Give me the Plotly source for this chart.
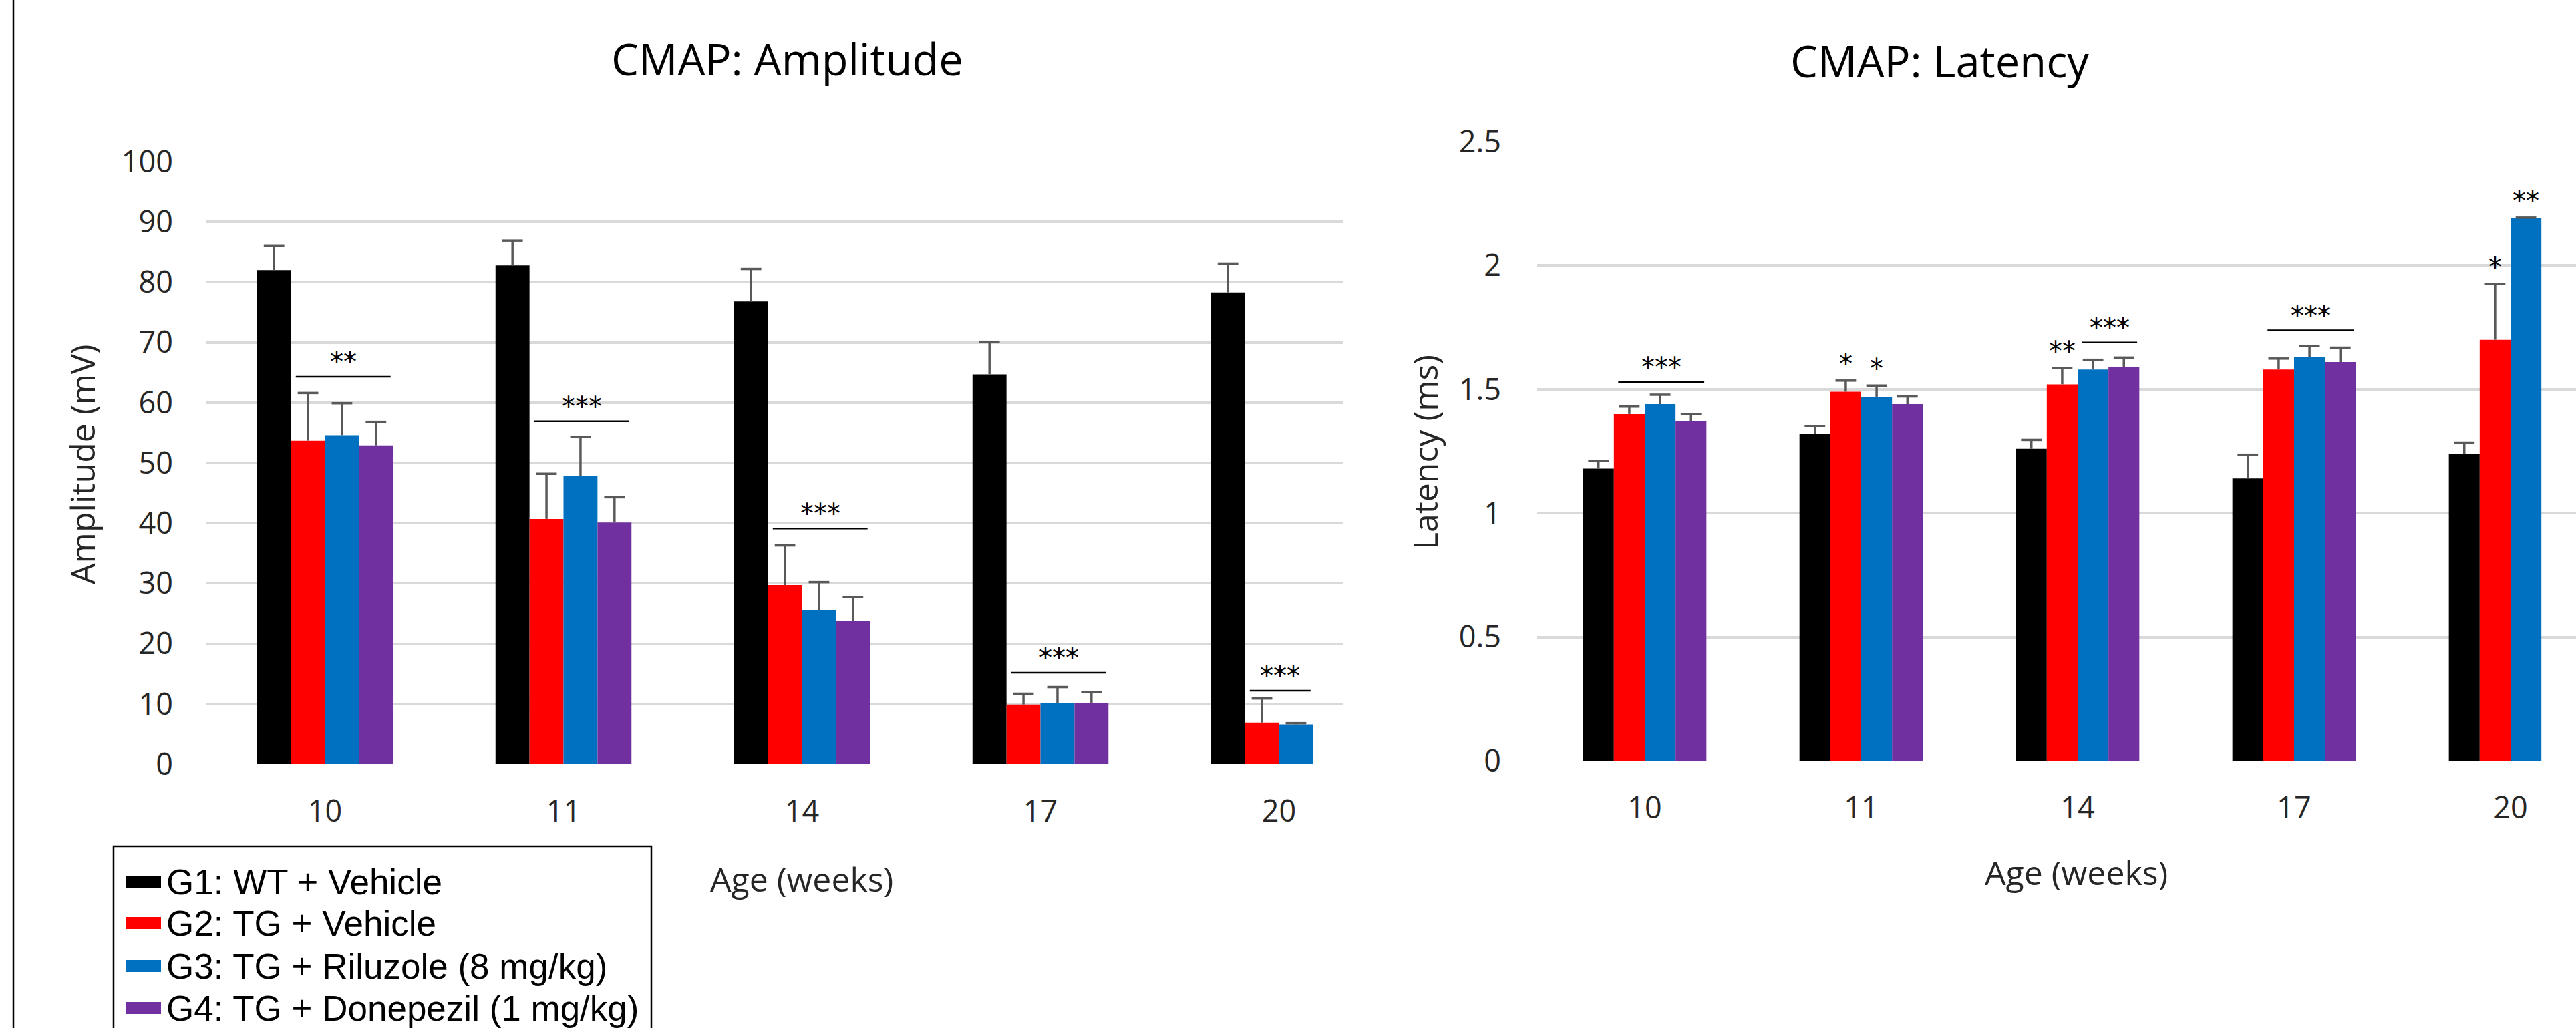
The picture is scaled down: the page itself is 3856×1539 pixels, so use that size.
import plotly.graph_objects as go

# ---------------- data ----------------
ages = ["10", "11", "14", "17", "20"]
groups = ["G1: WT + Vehicle", "G2: TG + Vehicle",
          "G3: TG + Riluzole (8 mg/kg)", "G4: TG + Donepezil (1 mg/kg)"]
colors = ["#000000", "#FF0000", "#0070C0", "#7030A0"]

# CMAP amplitude (mV), mean and upper error
amp_g1 = [82.0, 82.8, 76.8, 64.7, 78.3]
amp_g2 = [53.7, 40.7, 29.7, 9.9, 6.9]
amp_g3 = [54.6, 47.8, 25.6, 10.2, 6.6]
amp_g4 = [52.9, 40.1, 23.8, 10.2, None]
amp_err_g1 = [4.0, 4.1, 5.4, 5.4, 4.8]
amp_err_g2 = [7.9, 7.5, 6.6, 1.8, 4.0]
amp_err_g3 = [5.3, 6.5, 4.6, 2.6, 0.2]
amp_err_g4 = [3.9, 4.2, 3.9, 1.8, None]

# CMAP latency (ms), mean and upper error
lat_g1 = [1.18, 1.32, 1.26, 1.14, 1.24]
lat_g2 = [1.40, 1.49, 1.52, 1.58, 1.70]
lat_g3 = [1.44, 1.47, 1.58, 1.63, 2.19]
lat_g4 = [1.37, 1.44, 1.59, 1.61, None]
lat_err_g1 = [0.031, 0.031, 0.036, 0.096, 0.045]
lat_err_g2 = [0.030, 0.045, 0.065, 0.044, 0.226]
lat_err_g3 = [0.038, 0.045, 0.039, 0.045, 0.003]
lat_err_g4 = [0.029, 0.031, 0.038, 0.058, None]

# significance brackets: (age index, first group, last group, level, label)
amp_brackets = [(0, 1, 3, 64.3, "**"), (1, 1, 3, 56.9, "***"), (2, 1, 3, 39.1, "***"),
                (3, 1, 3, 15.2, "***"), (4, 1, 2, 12.2, "***")]
lat_brackets = [(0, 1, 3, 1.53, "***"), (2, 2, 3, 1.689, "***"), (3, 1, 3, 1.738, "***")]
# single-bar stars: (age index, group, label)
lat_stars = [(1, 1, "*"), (1, 2, "*"), (2, 1, "**"), (4, 1, "*"), (4, 2, "**")]

amp_ticks = list(range(0, 101, 10))
lat_ticks = [0, 0.5, 1, 1.5, 2, 2.5]
lat_ticktext = ["0", "0.5", "1", "1.5", "2", "2.5"]

# ---------------- style ----------------
W, H = 3856, 1539
BW = 0.1425
ERR = "#595959"
GRID = "#D9D9D9"
FONT = "Open Sans"
TICK_C = "#262626"
STAR_FONT = dict(family="DejaVu Sans", size=40, color="#000000")


def px(x):
    return x / W


def py(y):
    return 1 - y / H


fig = go.Figure()


def add_panel(means, errs, xa, ya):
    for k in range(4):
        xs, ys, es = [], [], []
        for i in range(len(ages)):
            if means[k][i] is None:
                continue
            xs.append(i + (k - 1.5) * BW)
            ys.append(means[k][i])
            es.append(errs[k][i])
        fig.add_trace(go.Bar(x=xs, y=ys, width=BW, name=groups[k],
                             marker=dict(color=colors[k], line=dict(width=0)),
                             xaxis=xa, yaxis=ya, showlegend=False))
        fig.add_trace(go.Scatter(
            x=xs, y=[m + e for m, e in zip(ys, es)], mode="markers",
            marker=dict(symbol="line-ew", size=22, line=dict(width=3.5, color=ERR)),
            error_y=dict(type="data", symmetric=False, array=[0] * len(es),
                         arrayminus=es, width=0, thickness=3.5, color=ERR),
            xaxis=xa, yaxis=ya, showlegend=False, hoverinfo="skip"))


add_panel([amp_g1, amp_g2, amp_g3, amp_g4],
          [amp_err_g1, amp_err_g2, amp_err_g3, amp_err_g4], "x", "y")
add_panel([lat_g1, lat_g2, lat_g3, lat_g4],
          [lat_err_g1, lat_err_g2, lat_err_g3, lat_err_g4], "x2", "y2")

shapes = []
annotations = []


def add_brackets(brackets, xr, yr):
    for (i, g0, g1, lvl, lab) in brackets:
        x0 = i + (g0 - 1.5) * BW - BW / 2 + 0.02
        x1 = i + (g1 - 1.5) * BW + BW / 2 - 0.01
        shapes.append(dict(type="line", xref=xr, yref=yr, x0=x0, x1=x1, y0=lvl, y1=lvl,
                           line=dict(color="#000000", width=2.5)))
        annotations.append(dict(xref=xr, yref=yr, x=(x0 + x1) / 2, y=lvl, text=lab,
                                showarrow=False, yanchor="middle", yshift=22,
                                font=STAR_FONT))


add_brackets(amp_brackets, "x", "y")
add_brackets(lat_brackets, "x2", "y2")

lat_all = [lat_g1, lat_g2, lat_g3, lat_g4]
lat_err_all = [lat_err_g1, lat_err_g2, lat_err_g3, lat_err_g4]
for (i, g, lab) in lat_stars:
    annotations.append(dict(xref="x2", yref="y2", x=i + (g - 1.5) * BW,
                            y=lat_all[g][i] + lat_err_all[g][i], text=lab,
                            showarrow=False, yanchor="middle", yshift=25,
                            font=STAR_FONT))


def label(x, y, text, size, color="#000000", angle=0, family=FONT, xanchor="center"):
    annotations.append(dict(xref="paper", yref="paper", x=px(x), y=py(y), text=text,
                            showarrow=False, textangle=angle, xanchor=xanchor,
                            yanchor="middle", font=dict(family=family, size=size, color=color)))


# titles
label(1178, 88, "CMAP: Amplitude", 65)
label(2903, 91, "CMAP: Latency", 65)
# axis titles
label(123, 695, "Amplitude (mV)", 50, TICK_C, -90)
label(2133, 677, "Latency (ms)", 50, TICK_C, -90)
label(1200, 1316, "Age (weeks)", 50, TICK_C)
label(3108, 1306, "Age (weeks)", 50, TICK_C)

# legend (boxed key below the left chart)
shapes.append(dict(type="rect", xref="paper", yref="paper", x0=px(170), x1=px(975),
                   y0=py(1570), y1=py(1267), line=dict(color="#000000", width=2.5),
                   fillcolor="rgba(0,0,0,0)"))
row_y = [1320, 1382, 1446, 1509]
for k in range(4):
    shapes.append(dict(type="rect", xref="paper", yref="paper", x0=px(188), x1=px(241),
                       y0=py(row_y[k] + 9), y1=py(row_y[k] - 9), line=dict(width=0),
                       fillcolor=colors[k]))
    label(247, row_y[k], groups[k], 53, "#000000", 0, "Liberation Sans", "left")

# outer left frame line
shapes.append(dict(type="line", xref="paper", yref="paper", x0=px(20), x1=px(20), y0=0, y1=1,
                   line=dict(color="#000000", width=2.5)))

axis_common = dict(showline=False, zeroline=False, showgrid=False, automargin=False,
                   tickfont=dict(family=FONT, size=45, color=TICK_C))
grid_y = dict(showgrid=True, gridcolor=GRID, gridwidth=4)

fig.update_layout(
    template="none",
    width=W, height=H, margin=dict(l=0, r=0, t=0, b=0, pad=0), autosize=False,
    paper_bgcolor="white", plot_bgcolor="white", barmode="overlay",
    shapes=shapes, annotations=annotations, showlegend=False,
    xaxis=dict(domain=[px(308), px(2010)], range=[-0.5, -0.5 + 1702 / 357],
               tickmode="array", tickvals=list(range(5)), ticktext=ages,
               ticks="", ticklabelstandoff=40, anchor="y", **axis_common),
    yaxis=dict(domain=[py(1144), py(242)], range=[0, 100], tickmode="array",
               tickvals=amp_ticks, ticks="", ticklabelstandoff=48, anchor="x",
               **{**axis_common, **grid_y}),
    xaxis2=dict(domain=[px(2300), 1.0], range=[-0.5, -0.5 + 1556 / 324],
                tickmode="array", tickvals=list(range(5)), ticktext=ages,
                ticks="", ticklabelstandoff=40, anchor="y2", **axis_common),
    yaxis2=dict(domain=[py(1139), py(212)], range=[0, 2.5], tickmode="array",
                tickvals=lat_ticks, ticktext=lat_ticktext,
                ticks="", ticklabelstandoff=52, anchor="x2",
                **{**axis_common, **grid_y}),
)

fig.write_html("out.html", config={"displayModeBar": False},
               post_script="document.body.style.margin='0px';")
